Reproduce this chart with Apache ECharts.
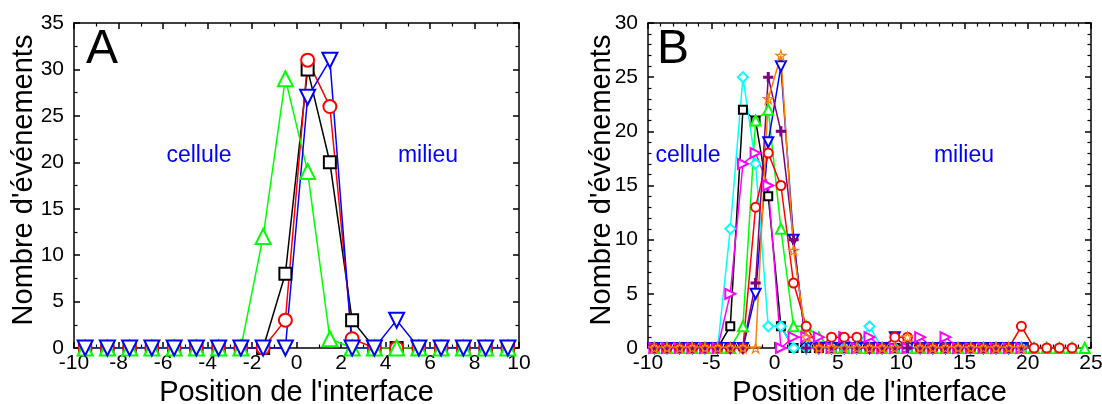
<!DOCTYPE html>
<html><head><meta charset="utf-8">
<script src="https://cdn.jsdelivr.net/npm/echarts/dist/echarts.min.js"></script>
<style>html,body{margin:0;padding:0;background:#fff}#c{width:1102px;height:404px}</style>
</head><body><div id="c"></div>
<script>
// ---------- Panel A data ----------
const xA = [-9.5,-8.5,-7.5,-6.5,-5.5,-4.5,-3.5,-2.5,-1.5,-0.5,0.5,1.5,2.5,3.5,4.5,5.5,6.5,7.5,8.5,9.5];
const aBlack = [0,0,0,0,0,0,0,0,0,8,30,20,3,0,0,0,0,0,0,0];
const aRed   = [0,0,0,0,0,0,0,0,0,3,31,26,1,0,0,0,0,0,0,0];
const aGreen = [0,0,0,0,0,0,0,0,12,29,19,1,0,0,0,0,0,0,0,0];
const aBlue  = [0,0,0,0,0,0,0,0,0,0,27,31,0,0,3,0,0,0,0,0];

// ---------- Panel B data ----------
const xB = [-9.5,-8.5,-7.5,-6.5,-5.5,-4.5,-3.5,-2.5,-1.5,-0.5,0.5,1.5,2.5,3.5,4.5,5.5,6.5,7.5,8.5,9.5,
            10.5,11.5,12.5,13.5,14.5,15.5,16.5,17.5,18.5,19.5,20.5,21.5,22.5,23.5,24.5];
const bBlack   = [0,0,0,0,0,0,2,22,21,14,2,0,0,0,0,0,0,0,0,0,0,0,0,0,0,0,0,0,0,0];
const bRed     = [0,0,0,0,0,0,0,0,13,18,15,6,2,0,1,1,1,0,0,1,1,0,0,0,0,0,0,0,0,2,0,0,0,0];
const bGreen   = [0,0,0,0,0,0,0,2,21,22,11,2,2,1,0,0,0,0,0,0,0,0,0,0,0,0,0,0,0,0,0,0,0,0,0];
const bBlue    = [0,0,0,0,0,0,0,0,5,19,26,10,0,0,0,0,0,0,0,1,0,0,0,0,0,0,0,0,0,0];
const bCyan    = [0,0,0,0,0,0,11,25,17,2,2,0,0,0,0,0,0,2,0,0,0,0,0,0,0,0,0,0,0,0];
const bMagenta = [0,0,0,0,0,0,5,17,18,15,0,1,1,1,0,1,0,1,0,0,0,1,0,1,0,0,0,0,0,0];
const bPurple  = [0,0,0,0,0,0,0,0,6,25,20,10,0,0,0,0,0,0,0,0,0,0,0,0,0,0,0,0,0,0];
const bOrange  = [0,0,0,0,0,0,0,0,0,23,27,9,1,0,0,0,0,0,0,0,1,0,0,0,0,0,0,0,0,0];

const FONT = 'Liberation Sans, Arial, sans-serif';
const pairs = (xs, ys) => ys.map((v, i) => [xs[i], v]);

const PLUS = 'path://M4,0h2v10h-2z M0,4h10v2h-10z';
const STAR = 'path://M50,0 L61.8,36.2 L100,36.2 L69.1,58.6 L80.9,95.1 L50,72.7 L19.1,95.1 L30.9,58.6 L0,36.2 L38.2,36.2 Z';

function ser(data, color, symbol, size, xi, yi, extra) {
  const s = {
    type: 'line', data: data, xAxisIndex: xi, yAxisIndex: yi,
    symbol: symbol, symbolSize: size, showAllSymbol: true,
    lineStyle: { color: color, width: 1.5 },
    itemStyle: { color: color, borderColor: color, borderWidth: 1.2 },
    emphasis: { disabled: true }, silent: true
  };
  return Object.assign(s, extra || {});
}

function axisX(gi, min, max, interval, split, pos, label) {
  return {
    type: 'value', gridIndex: gi, min: min, max: max, interval: interval, position: pos,
    axisLine: { show: true, onZero: false, lineStyle: { color: '#000', width: 1.5 } },
    axisTick: { show: true, inside: true, length: 6, lineStyle: { color: '#000', width: 1.5 } },
    minorTick: { show: true, splitNumber: split, length: 3.5, lineStyle: { color: '#000', width: 1.2 } },
    splitLine: { show: false },
    axisLabel: { show: label, color: '#000', fontSize: 21, fontFamily: FONT, margin: 5 },
    name: label ? "Position de l'interface" : '', nameLocation: 'middle', nameGap: 23,
    nameTextStyle: { color: '#000', fontSize: 29, fontFamily: FONT }
  };
}
function axisY(gi, min, max, interval, split, pos, label) {
  return {
    type: 'value', gridIndex: gi, min: min, max: max, interval: interval, position: pos,
    axisLine: { show: true, onZero: false, lineStyle: { color: '#000', width: 1.5 } },
    axisTick: { show: true, inside: true, length: 6, lineStyle: { color: '#000', width: 1.5 } },
    minorTick: { show: true, splitNumber: split, length: 3.5, lineStyle: { color: '#000', width: 1.2 } },
    splitLine: { show: false },
    axisLabel: { show: label, color: '#000', fontSize: 21, fontFamily: FONT, margin: 10 }
  };
}

const chart = echarts.init(document.getElementById('c'), null, { renderer: 'canvas' });
const txt = (x, y, s, size, color, rot) => ({
  type: 'text', x: x, y: y, rotation: rot || 0, silent: true,
  style: { text: s, fontSize: size, fontFamily: FONT, fill: color, align: 'center', verticalAlign: 'middle' }
});

chart.setOption({
  animation: false,
  backgroundColor: '#fff',
  grid: [
    { left: 74, top: 23, width: 445, height: 325, outerBoundsMode: 'none', containLabel: false },
    { left: 648, top: 23, width: 443, height: 325, outerBoundsMode: 'none', containLabel: false }
  ],
  xAxis: [
    axisX(0, -10, 10, 2, 2, 'bottom', true),
    axisX(0, -10, 10, 2, 2, 'top', false),
    axisX(1, -10, 25, 5, 5, 'bottom', true),
    axisX(1, -10, 25, 5, 5, 'top', false)
  ],
  yAxis: [
    axisY(0, 0, 35, 5, 2, 'left', true),
    axisY(0, 0, 35, 5, 2, 'right', false),
    axisY(1, 0, 30, 5, 5, 'left', true),
    axisY(1, 0, 30, 5, 5, 'right', false)
  ],
  graphic: [
    txt(24, 180, "Nombre d'événements", 29, '#000', Math.PI / 2),
    txt(602, 180, "Nombre d'événements", 29, '#000', Math.PI / 2),
    txt(102, 50, 'A', 48, '#000'),
    txt(199, 156, 'cellule', 23, '#0000ff'),
    txt(428, 156, 'milieu', 23, '#0000ff'),
    txt(673, 50, 'B', 48, '#000'),
    txt(688, 156, 'cellule', 23, '#0000ff'),
    txt(964, 156, 'milieu', 23, '#0000ff')
  ],
  series: [
    ser(pairs(xA, aBlack), '#000000', 'emptyRect', 12, 0, 0),
    ser(pairs(xA, aRed), '#ff0000', 'emptyCircle', 13, 0, 0),
    ser(pairs(xA, aGreen), '#00ff00', 'emptyTriangle', 15, 0, 0),
    ser(pairs(xA, aBlue), '#0000ff', 'emptyTriangle', 15, 0, 0, { symbolRotate: 180 }),

    ser(pairs(xB, bBlack), '#000000', 'emptyRect', 8, 2, 2),
    ser(pairs(xB, bGreen), '#00ff00', 'emptyTriangle', 10, 2, 2),
    ser(pairs(xB, bBlue), '#0000ff', 'emptyTriangle', 10, 2, 2, { symbolRotate: 180 }),
    ser(pairs(xB, bCyan), '#00ffff', 'emptyDiamond', 10, 2, 2),
    ser(pairs(xB, bMagenta), '#ff00ff', 'emptyTriangle', 10, 2, 2, { symbolRotate: -90 }),
    ser(pairs(xB, bRed), '#ff0000', 'emptyCircle', 9, 2, 2),
    ser(pairs(xB, bPurple), '#800080', PLUS, 9, 2, 2),
    ser(pairs(xB, bOrange), '#ff8000', STAR, 10, 2, 2, { itemStyle: { color: 'rgba(255,255,255,0)', borderColor: '#ff8000', borderWidth: 1.2 } })
  ]
});
</script></body></html>
